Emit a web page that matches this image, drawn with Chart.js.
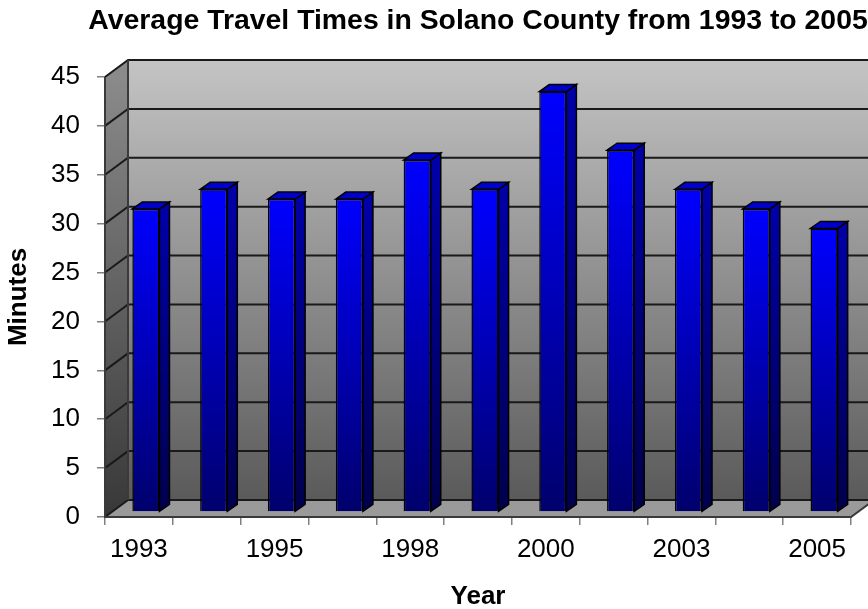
<!DOCTYPE html>
<html>
<head>
<meta charset="utf-8">
<script src="https://cdn.jsdelivr.net/npm/chart.js@4"></script>
<style>
  html, body { margin: 0; padding: 0; background: #fff; }
  #wrap { width: 868px; height: 609px; }
</style>
</head>
<body>
<div id="wrap"><canvas id="travelChart"></canvas></div>
<script>
// data
const years = ['1993', '1994', '1995', '1997', '1998', '1999', '2000', '2002', '2003', '2004', '2005'];
const minutes = [31, 33, 32, 32, 36, 33, 43, 37, 33, 31, 29];
const yTicks = [0, 5, 10, 15, 20, 25, 30, 35, 40, 45];
const chartTitle = 'Average Travel Times in Solano County from 1993 to 2005';

// fake 3D depth
const WALL_DX = 23, WALL_DY = -17;   // back wall offset
const BAR_DX = 7, BAR_DY = -5;       // bars sit half way into the box
const SIDE_DX = 10, SIDE_DY = -7;    // bar depth

const barFront = (context) => {
    const chart = context.chart;
    const y = chart.scales.y;
    if (!y || context.raw === undefined) return '#0000ff';
    const top = y.getPixelForValue(context.raw);
    const base = y.getPixelForValue(0);
    if (!isFinite(top) || !isFinite(base)) return '#0000ff';
    const g = chart.ctx.createLinearGradient(0, top, 0, base);
    g.addColorStop(0, '#0000ff');
    g.addColorStop(1, '#00006c');
    return g;
};

const box3d = {
    id: 'box3d',
    beforeDatasetsDraw(chart) {
        const { ctx, chartArea } = chart;
        const yScale = chart.scales.y;
        const L = chartArea.left, R = chartArea.right;
        const T = yScale.getPixelForValue(45), B = yScale.getPixelForValue(0);

        ctx.save();
        // back wall
        let g = ctx.createLinearGradient(0, T + WALL_DY, 0, B + WALL_DY);
        g.addColorStop(0, '#c4c4c4');
        g.addColorStop(1, '#5a5a5a');
        ctx.fillStyle = g;
        ctx.fillRect(L + WALL_DX, T + WALL_DY, R - L, B - T);

        // left side wall
        g = ctx.createLinearGradient(0, T, 0, B);
        g.addColorStop(0, '#8a8a8a');
        g.addColorStop(1, '#383838');
        ctx.fillStyle = g;
        ctx.beginPath();
        ctx.moveTo(L, T);
        ctx.lineTo(L + WALL_DX, T + WALL_DY);
        ctx.lineTo(L + WALL_DX, B + WALL_DY);
        ctx.lineTo(L, B);
        ctx.closePath();
        ctx.fill();

        // floor
        ctx.fillStyle = '#9a9a9a';
        ctx.beginPath();
        ctx.moveTo(L, B);
        ctx.lineTo(R, B);
        ctx.lineTo(R + WALL_DX, B + WALL_DY);
        ctx.lineTo(L + WALL_DX, B + WALL_DY);
        ctx.closePath();
        ctx.fill();

        // grid lines on side + back wall
        ctx.strokeStyle = '#1a1a1a';
        ctx.lineWidth = 2;
        yTicks.forEach(v => {
            const py = yScale.getPixelForValue(v);
            ctx.beginPath();
            ctx.moveTo(L, py);
            ctx.lineTo(L + WALL_DX, py + WALL_DY);
            ctx.lineTo(R + WALL_DX, py + WALL_DY);
            ctx.stroke();
        });

        // front edges
        ctx.strokeStyle = '#3a3a3a';
        ctx.beginPath();
        ctx.moveTo(L, T);
        ctx.lineTo(L, B);
        ctx.lineTo(R, B);
        ctx.lineTo(R + WALL_DX, B + WALL_DY);
        ctx.stroke();
        ctx.beginPath();
        ctx.moveTo(L + WALL_DX, T + WALL_DY);
        ctx.lineTo(L + WALL_DX, B + WALL_DY);
        ctx.stroke();
        ctx.restore();

        // shift the bars into the box
        ctx.save();
        ctx.translate(BAR_DX, BAR_DY);
    },
    afterDatasetsDraw(chart) {
        const ctx = chart.ctx;
        const meta = chart.getDatasetMeta(0);
        ctx.lineWidth = 1.5;
        ctx.strokeStyle = '#000';
        meta.data.forEach(bar => {
            const { x, y, base, width } = bar.getProps(['x', 'y', 'base', 'width'], true);
            const l = x - width / 2, r = x + width / 2;

            // side face
            const g = ctx.createLinearGradient(0, y, 0, base);
            g.addColorStop(0, '#0000a8');
            g.addColorStop(1, '#00004c');
            ctx.fillStyle = g;
            ctx.beginPath();
            ctx.moveTo(r, y);
            ctx.lineTo(r + SIDE_DX, y + SIDE_DY);
            ctx.lineTo(r + SIDE_DX, base + SIDE_DY);
            ctx.lineTo(r, base);
            ctx.closePath();
            ctx.fill();
            ctx.stroke();

            // top face
            ctx.fillStyle = '#0000cc';
            ctx.beginPath();
            ctx.moveTo(l, y);
            ctx.lineTo(l + SIDE_DX, y + SIDE_DY);
            ctx.lineTo(r + SIDE_DX, y + SIDE_DY);
            ctx.lineTo(r, y);
            ctx.closePath();
            ctx.fill();
            ctx.stroke();
        });
        ctx.restore();
    },
    // title centred over the plot, without chart.js squeezing it to the box width
    afterDraw(chart) {
        const { ctx, chartArea } = chart;
        ctx.save();
        ctx.font = 'bold 28.4px "Liberation Sans", Arial, sans-serif';
        ctx.fillStyle = '#000';
        ctx.textAlign = 'center';
        ctx.textBaseline = 'middle';
        ctx.fillText(chartTitle, (chartArea.left + chartArea.right) / 2, 21);
        ctx.restore();
    }
};

const ctx = document.getElementById('travelChart');
new Chart(ctx, {
    type: 'bar',
    data: {
        labels: years,
        datasets: [{
            label: 'Minutes',
            data: minutes,
            backgroundColor: barFront,
            borderColor: '#000',
            borderWidth: 1.5,
            categoryPercentage: 1,
            barPercentage: 0.4
        }]
    },
    options: {
        responsive: true,
        maintainAspectRatio: false,
        animation: false,
        layout: { padding: { left: 0, right: 17, top: 77, bottom: 0 } },
        plugins: {
            legend: { display: false },
            tooltip: { enabled: false },
            title: { display: false }
        },
        scales: {
            x: {
                grid: { drawOnChartArea: false, drawTicks: true, tickLength: 8, color: '#808080', lineWidth: 1.5 },
                border: { display: false },
                ticks: {
                    autoSkip: false,
                    maxRotation: 0,
                    padding: 9,
                    color: '#000',
                    font: { family: 'Liberation Sans, Arial, sans-serif', size: 26 },
                    callback: (val, i) => (i % 2 === 0 ? years[i] : '')
                },
                title: {
                    display: true,
                    text: 'Year',
                    color: '#000',
                    font: { family: 'Liberation Sans, Arial, sans-serif', size: 26, weight: 'bold', lineHeight: 0.9 },
                    padding: { top: 0, bottom: 0 }
                },
                afterFit: (scale) => { scale.height = 92; }
            },
            y: {
                min: 0,
                max: 45,
                grid: { drawOnChartArea: false, drawTicks: true, tickLength: 8, color: '#808080', lineWidth: 1.5 },
                border: { display: false },
                ticks: {
                    stepSize: 5,
                    padding: 17,
                    color: '#000',
                    font: { family: 'Liberation Sans, Arial, sans-serif', size: 26 }
                },
                title: {
                    display: true,
                    text: 'Minutes',
                    color: '#000',
                    font: { family: 'Liberation Sans, Arial, sans-serif', size: 26, weight: 'bold' },
                    padding: { top: 3, bottom: 0 }
                },
                afterFit: (scale) => { scale.width = 105; }
            }
        }
    },
    plugins: [box3d]
});
</script>
</body>
</html>
